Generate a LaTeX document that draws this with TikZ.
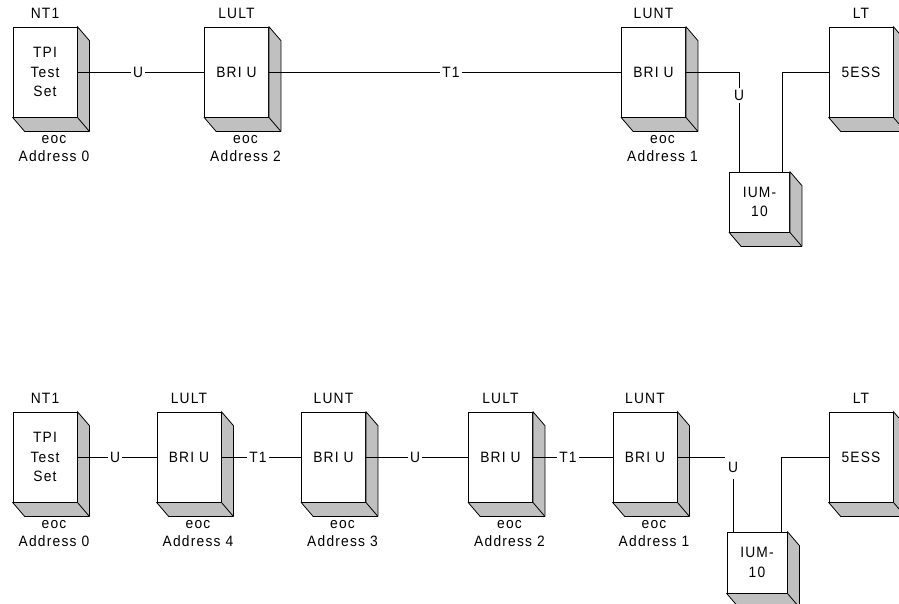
\documentclass[tikz,border=0pt]{standalone}
\usepackage{fontspec}
\setmainfont{Liberation Sans}[FakeStretch=0.92,LetterSpace=8]
\usetikzlibrary{calc}
\definecolor{sidegray}{RGB}{192,192,192}
\tikzset{
  txt/.style={font=\fontsize{15}{19.5}\selectfont},
  front/.style={txt, draw, fill=white, line width=0.8pt, inner sep=0pt, align=center},
  bigbox/.style={front, minimum width=64pt, minimum height=90pt},
  smallbox/.style={front, minimum width=60pt, minimum height=60pt},
  titletxt/.style={txt, inner sep=0pt},
  addrtxt/.style={font=\fontsize{15}{18}\selectfont, inner sep=0pt, align=center},
  wire/.style={line width=0.8pt},
  wlabel/.style={txt, fill=white, inner sep=2pt},
}
\newcommand\sidefaces[1]{%
  \filldraw[fill=sidegray, line width=0.8pt, line join=round]
    (#1.north east) -- ++(12,14) -- ($(#1.south east)+(12,14)$)
    -- ($(#1.south west)+(12,14)$) -- (#1.south west) -- (#1.south east) -- cycle;
  \draw[line width=0.8pt] (#1.south east) -- ++(12,14);}
\newcommand\boxtitle[3]{\node[titletxt] (#1) at ($(#2.north)+(0,-13)$) {#3};}
\newcommand\boxaddr[3]{\node[addrtxt] (#1) at ($(#2.south)+(9,31.5)$) {eoc\\#3};}
\begin{document}
\begin{tikzpicture}[x=1pt,y=-1pt]
\useasboundingbox (0,0) rectangle (899,603);
% ---------------- top row ----------------
\node[bigbox] (nta) at (45,72) {TPI\\Test\\Set};
\node[bigbox] (lulta) at (236.5,72) {BRI U};
\node[bigbox] (lunta) at (653.5,72) {BRI U};
\node[bigbox] (lta) at (861,72) {5ESS};
\node[smallbox] (iuma) at (759.5,202) {IUM-\\10};
\foreach \n in {nta,lulta,lunta,lta,iuma} {\sidefaces{\n}}
\boxtitle{tnta}{nta}{NT1}
\boxtitle{tlulta}{lulta}{LULT}
\boxtitle{tlunta}{lunta}{LUNT}
\boxtitle{tlta}{lta}{LT}
\boxaddr{anta}{nta}{Address 0}
\boxaddr{alulta}{lulta}{Address 2}
\boxaddr{alunta}{lunta}{Address 1}
\coordinate (ka) at (739,72);
\coordinate (kb) at (782,72);
\draw[wire] (nta.east) -- (lulta.west);
\draw[wire] (lulta.east) -- (lunta.west);
\draw[wire] (lunta.east) -- (ka) -- (ka |- iuma.north);
\draw[wire] (kb |- iuma.north) -- (kb) -- (lta.west);
\node[wlabel] (wa1) at (138,72) {U};
\node[wlabel] (wa2) at (451,72) {T1};
\node[wlabel] (wa3) at (739,95.5) {U};
% ---------------- bottom row ----------------
\node[bigbox] (ntb) at (45,457) {TPI\\Test\\Set};
\node[bigbox] (lultb) at (189,457) {BRI U};
\node[bigbox] (luntb) at (333.5,457) {BRI U};
\node[bigbox] (lultc) at (500.5,457) {BRI U};
\node[bigbox] (luntc) at (645,457) {BRI U};
\node[bigbox] (ltb) at (861,457) {5ESS};
\node[smallbox, minimum height=61pt] (iumb) at (757,562.5) {IUM-\\10};
\foreach \n in {ntb,lultb,luntb,lultc,luntc,ltb,iumb} {\sidefaces{\n}}
\boxtitle{tntb}{ntb}{NT1}
\boxtitle{tlultb}{lultb}{LULT}
\boxtitle{tluntb}{luntb}{LUNT}
\boxtitle{tlultc}{lultc}{LULT}
\boxtitle{tluntc}{luntc}{LUNT}
\boxtitle{tltb}{ltb}{LT}
\boxaddr{antb}{ntb}{Address 0}
\boxaddr{alultb}{lultb}{Address 4}
\boxaddr{aluntb}{luntb}{Address 3}
\boxaddr{alultc}{lultc}{Address 2}
\boxaddr{aluntc}{luntc}{Address 1}
\coordinate (kc) at (733,457);
\coordinate (kd) at (781,457);
\draw[wire] (ntb.east) -- (lultb.west);
\draw[wire] (lultb.east) -- (luntb.west);
\draw[wire] (luntb.east) -- (lultc.west);
\draw[wire] (lultc.east) -- (luntc.west);
\draw[wire] (luntc.east) -- (kc) -- (kc |- iumb.north);
\draw[wire] (kd |- iumb.north) -- (kd) -- (ltb.west);
\node[wlabel] (wb1) at (115,457) {U};
\node[wlabel] (wb2) at (258,457) {T1};
\node[wlabel] (wb3) at (415,457) {U};
\node[wlabel] (wb4) at (568,457) {T1};
\node[wlabel, minimum width=16pt, minimum height=24pt, inner sep=0pt] (wb5) at (733,467) {U};
\end{tikzpicture}
\end{document}
